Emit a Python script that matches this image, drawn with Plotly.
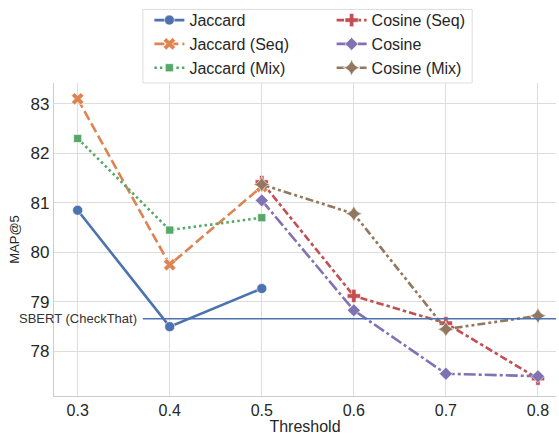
import plotly.graph_objects as go

thresholds = [0.3, 0.4, 0.5, 0.6, 0.7, 0.8]
jaccard = [80.85, 78.5, 79.27, None, None, None]
jaccard_seq = [83.1, 79.75, 81.33, None, None, None]
jaccard_mix = [82.3, 80.45, 80.7, None, None, None]
cosine_seq = [None, None, 81.42, 79.12, 78.57, 77.45]
cosine = [None, None, 81.05, 78.83, 77.55, 77.5]
cosine_mix = [None, None, 81.37, 80.78, 78.45, 78.72]
sbert_checkthat = 78.66
y_ticks = [78, 79, 80, 81, 82, 83]

series = [
    ("Jaccard", jaccard, "#4C72B0", "solid", "circle", 10, "legend"),
    ("Jaccard (Seq)", jaccard_seq, "#DD8452", "10px,4px", "x", 11, "legend"),
    ("Jaccard (Mix)", jaccard_mix, "#55A868", "2.5px,3px", "square", 8, "legend"),
    ("Cosine (Seq)", cosine_seq, "#C44E52", "7.5px,3px,3.5px,3px", "cross", 11, "legend2"),
    ("Cosine", cosine, "#8172B3", "12px,3px,3px,3px", "diamond", 10, "legend2"),
    ("Cosine (Mix)", cosine_mix, "#937860", "8px,3px,3px,3px,3px,3px", "star-diamond", 12, "legend2"),
]

fig = go.Figure()
for name, vals, color, dash, sym, size, lg in series:
    xs = [t for t, v in zip(thresholds, vals) if v is not None]
    ys = [v for v in vals if v is not None]
    fig.add_trace(go.Scatter(
        x=xs, y=ys, name=name, mode="lines+markers", legend=lg,
        line=dict(color=color, width=2.6, dash=dash),
        marker=dict(symbol=sym, size=size, color=color, line=dict(color="white", width=0.6)),
    ))

fig.add_shape(type="line", xref="paper", yref="y", x0=0.177, x1=1,
              y0=sbert_checkthat, y1=sbert_checkthat,
              line=dict(color="#4C72B0", width=1.3), layer="above")
fig.add_annotation(xref="paper", yref="y", x=0.17, y=sbert_checkthat,
                   text="SBERT (CheckThat)", showarrow=False, xanchor="right",
                   yanchor="middle", font=dict(size=13, color="#333333"))

fig.add_shape(type="rect", xref="paper", yref="paper", x0=0.177, x1=0.833,
              y0=1.0, y1=1.235, line=dict(color="#dddddd", width=1),
              fillcolor="rgba(0,0,0,0)")

legend_font = dict(size=16, color="#262626", family="Liberation Sans, Arial, sans-serif")
fig.update_layout(
    width=559, height=435,
    margin=dict(l=54, r=3, t=80, b=39),
    paper_bgcolor="white", plot_bgcolor="white",
    font=dict(family="Liberation Sans, Arial, sans-serif", color="#262626"),
    legend=dict(x=0.19, y=1.255, xanchor="left", yanchor="top",
                bgcolor="rgba(0,0,0,0)", font=legend_font, tracegroupgap=0),
    legend2=dict(x=0.553, y=1.255, xanchor="left", yanchor="top",
                 bgcolor="rgba(0,0,0,0)", font=legend_font, tracegroupgap=0),
    xaxis=dict(range=[0.2743, 0.8196], tickvals=thresholds,
               ticktext=[f"{t:.1f}" for t in thresholds],
               showgrid=True, gridcolor="#dddddd", gridwidth=1,
               showline=True, linecolor="#cccccc", linewidth=1.2,
               zeroline=False, ticks="", tickfont=dict(size=16),
               title=dict(text="Threshold", font=dict(size=16), standoff=3)),
    yaxis=dict(range=[77.1, 83.42], tickvals=y_ticks,
               showgrid=True, gridcolor="#dddddd", gridwidth=1,
               showline=True, linecolor="#cccccc", linewidth=1.2,
               zeroline=False, ticks="", tickfont=dict(size=17),
               title=dict(text="MAP@5", font=dict(size=13), standoff=8)),
)

fig.write_html("out.html", config={"displayModeBar": False},
               post_script="document.body.style.margin='0';")
